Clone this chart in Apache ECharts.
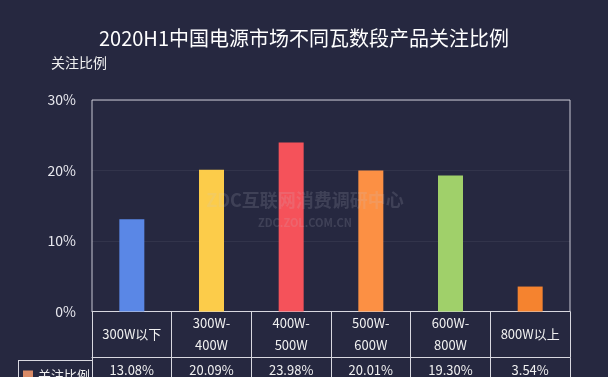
<!DOCTYPE html>
<html><head><meta charset="utf-8">
<script src="https://cdn.jsdelivr.net/npm/echarts@6/dist/echarts.min.js"></script>
<style>html,body{margin:0;padding:0;background:#262840;}#c{width:608px;height:377px;}</style>
</head><body><div id="c"></div>
<script>
var categories = ['300W以下', '300W-\n400W', '400W-\n500W', '500W-\n600W', '600W-\n800W', '800W以上'];
var values = [13.08, 20.09, 23.98, 20.01, 19.30, 3.54];
var barColors = ['#5a87e6', '#fccc4a', '#f5525a', '#fc9044', '#a0d06a', '#f5832f'];
var yTicks = [0, 10, 20, 30];
var seriesName = '关注比例';

var FONT = '"Noto Sans CJK SC", "Noto Sans", sans-serif';
var chart = echarts.init(document.getElementById('c'), null, {renderer: 'canvas'});
chart.setOption({
  backgroundColor: '#262840',
  textStyle: {fontFamily: FONT},
  title: {
    text: '2020H1中国电源市场不同瓦数段产品关注比例',
    left: 'center', top: 23,
    textStyle: {color: '#ffffff', fontSize: 20, fontWeight: 'normal', fontFamily: FONT}
  },
  legend: {
    left: 18, top: 364, itemWidth: 10, itemHeight: 10, itemGap: 4, icon: 'rect',
    data: [seriesName],
    textStyle: {color: '#f0f0f0', fontSize: 13, fontFamily: FONT}
  },
  grid: {left: 92, right: 38, top: 100, bottom: 63, show: true, borderColor: '#c8c8d4', borderWidth: 1},
  xAxis: [{
    type: 'category', data: categories, position: 'bottom',
    axisLine: {lineStyle: {color: '#d8d8e0', width: 1}},
    axisTick: {show: true, length: 46, lineStyle: {color: '#d8d8e0'}},
    axisLabel: {color: '#f0f0f0', fontSize: 13, lineHeight: 22, margin: 23, verticalAlign: 'middle', interval: 0, fontFamily: FONT}
  }, {
    type: 'category', data: values.map(function(v){return v.toFixed(2) + '%';}), position: 'bottom', offset: 46,
    axisLine: {show: true, lineStyle: {color: '#d8d8e0', width: 1}},
    axisTick: {show: true, length: 30, lineStyle: {color: '#d8d8e0'}},
    axisLabel: {color: '#f0f0f0', fontSize: 13, margin: 13, verticalAlign: 'middle', interval: 0, fontFamily: FONT}
  }],
  yAxis: {
    type: 'value', min: yTicks[0], max: yTicks[yTicks.length - 1], interval: 10,
    name: '关注比例', nameLocation: 'end', nameGap: 30,
    nameTextStyle: {color: '#f0f0f0', fontSize: 14, align: 'center', padding: [0, 26, 0, 0], fontFamily: FONT},
    axisLine: {show: false}, axisTick: {show: false},
    axisLabel: {color: '#e8e8ee', fontSize: 14, margin: 16, formatter: '{value}%', fontFamily: FONT},
    splitLine: {show: true, lineStyle: {color: 'rgba(255,255,255,0.06)'}}
  },
  series: [{
    name: seriesName, type: 'bar', barWidth: 25, xAxisIndex: 0,
    itemStyle: {color: '#d98a66'},
    data: values.map(function(v, i){ return {value: v, itemStyle: {color: barColors[i]}}; })
  }],
  graphic: [
    {type: 'line', shape: {x1: 18, y1: 360.5, x2: 92, y2: 360.5}, style: {stroke: '#d8d8e0', lineWidth: 1}},
    {type: 'line', shape: {x1: 18.5, y1: 360, x2: 18.5, y2: 377}, style: {stroke: '#d8d8e0', lineWidth: 1}},
    {type: 'text', x: 305, y: 200, z: 100, style: {text: 'ZDC互联网消费调研中心', fill: 'rgba(200,200,210,0.16)', font: 'bold 18px ' + FONT, align: 'center', verticalAlign: 'middle'}},
    {type: 'text', x: 305, y: 223, z: 100, style: {text: 'ZDC.ZOL.COM.CN', fill: 'rgba(200,200,210,0.16)', font: 'bold 11px ' + FONT, align: 'center', verticalAlign: 'middle'}}
  ]
});
</script></body></html>
